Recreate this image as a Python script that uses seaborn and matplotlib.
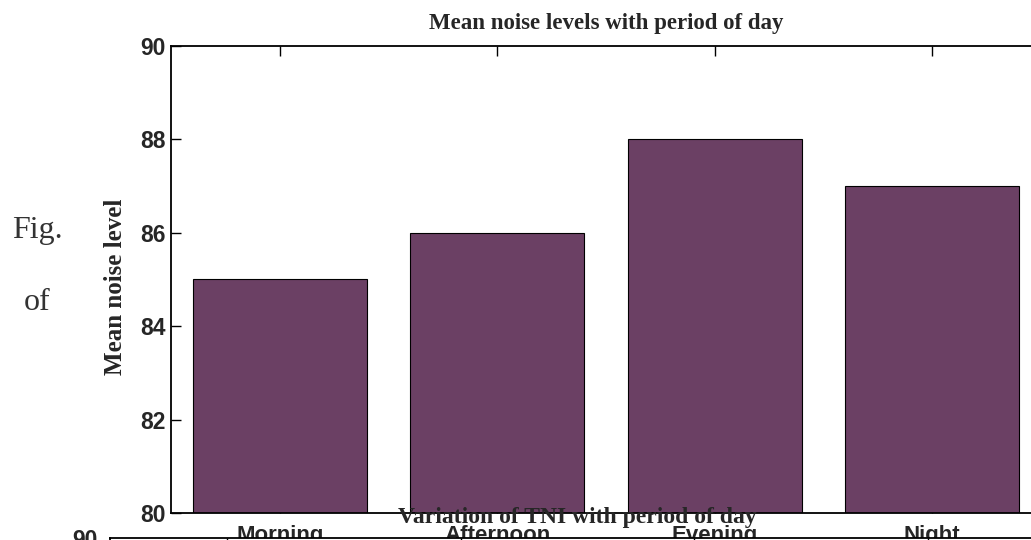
import matplotlib
matplotlib.use("Agg")
import matplotlib.pyplot as plt
import seaborn as sns
import pandas as pd

periods = ["Morning", "Afternoon", "Evening", "Night"]
mean_noise = [85, 86, 88, 87]
y_ticks = [80, 82, 84, 86, 88, 90]
title_top = "Mean noise levels with period of day"
title_bottom = "Variation of TNI with period of day"
y_label = "Mean noise level"

sns.set_theme(style="white")
plt.rcParams["font.family"] = ["Liberation Sans", "DejaVu Sans"]

SANS = ["Liberation Sans", "DejaVu Sans"]
SERIF = ["Liberation Serif", "DejaVu Serif"]

W, H = 1031, 540
fig = plt.figure(figsize=(W / 100, H / 100), dpi=100)

def frac(l, r, t, b):
    return [l / W, (H - b) / H, (r - l) / W, (b - t) / H]

ax = fig.add_axes(frac(171, 1041, 46, 513))
df = pd.DataFrame({"period": periods, "noise": mean_noise})
sns.barplot(data=df, x="period", y="noise", color="#6B4064", saturation=1,
            edgecolor="black", linewidth=0.8, width=0.8, ax=ax)
ax.set_ylim(80, 90)
ax.set_xlim(-0.5, 3.5)
ax.set_yticks(y_ticks)
ax.set_yticklabels([str(v) for v in y_ticks])
ax.tick_params(axis="both", direction="in", length=7, width=1, color="black",
               top=True, right=True, bottom=True, left=True)
ax.tick_params(axis="x", pad=8.5)
ax.tick_params(axis="y", pad=4)
for lbl in ax.get_xticklabels():
    lbl.set_fontweight("bold")
    lbl.set_family(SANS)
    lbl.set_fontsize(16)
for lbl in ax.get_yticklabels():
    lbl.set_fontweight("bold")
    lbl.set_family(SANS)
    lbl.set_fontsize(16.5)
for s in ax.spines.values():
    s.set_visible(True)
    s.set_color("black")
    s.set_linewidth(1.3)
ax.set_xlabel("")
ax.set_ylabel(y_label, fontsize=18, fontweight="bold", family=SERIF)
ax.yaxis.set_label_coords(-0.051, 0.485)
ax.set_title(title_top, fontsize=16.5, fontweight="bold", family=SERIF, pad=12)

# second (lower) chart, only its top is visible
ax2 = fig.add_axes([110 / W, -0.8, 935 / W, 0.8 + 2 / H])
ax2.set_facecolor("white")
ax2.set_xlim(-0.5, 3.5)
ax2.set_ylim(80, 90)
ax2.set_xticks(range(len(periods)))
ax2.set_xticklabels(periods)
ax2.set_yticks(y_ticks)
ax2.set_yticklabels([str(v) for v in y_ticks])
ax2.tick_params(axis="both", direction="in", length=7, width=1, color="black",
                top=True, right=True, pad=9)
for lbl in ax2.get_yticklabels() + ax2.get_xticklabels():
    lbl.set_fontweight("bold")
    lbl.set_family(SANS)
    lbl.set_fontsize(16.5)
for s in ax2.spines.values():
    s.set_visible(True)
    s.set_color("black")
    s.set_linewidth(1.3)
ax2.set_title(title_bottom, fontsize=17, fontweight="bold", family=SERIF, pad=11)

# surrounding document text
fig.text(12 / W, 1 - 238 / H, "Fig.", fontsize=23, color="#333333",
         family=SERIF, ha="left", va="baseline")
fig.text(24 / W, 1 - 310 / H, "of", fontsize=23, color="#333333",
         family=SERIF, ha="left", va="baseline")

fig.savefig("out.png", dpi=100)
